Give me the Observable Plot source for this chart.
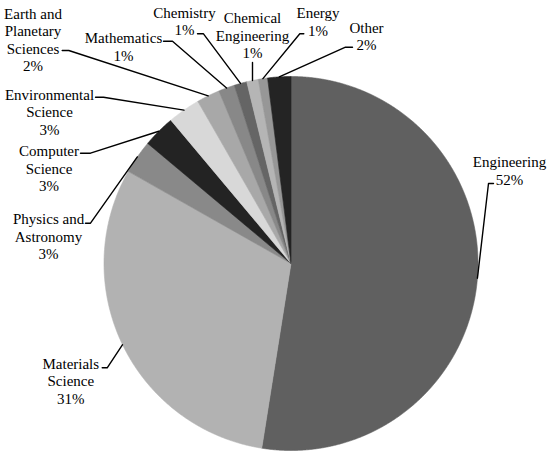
<!DOCTYPE html>
<html>
<head>
<meta charset="utf-8">
<script src="https://cdn.jsdelivr.net/npm/d3@7"></script>
<script src="https://cdn.jsdelivr.net/npm/@observablehq/plot@0.6"></script>
</head>
<body style="margin:0;background:#fff">
<div id="chart"></div>
<script>
// ---- Data ----
const names = ["Engineering", "Materials Science", "Physics and Astronomy", "Computer Science",
  "Environmental Science", "Earth and Planetary Sciences", "Mathematics", "Chemistry",
  "Chemical Engineering", "Energy", "Other"];
const shares = [52.5, 30.7, 2.9, 2.8, 2.8, 2.0, 1.4, 1.1, 1.0, 0.8, 2.0];
const pctLabels = ["52%", "31%", "3%", "3%", "3%", "2%", "1%", "1%", "1%", "1%", "2%"];
const labelNames = ["Engineering", "Materials\nScience", "Physics and\nAstronomy", "Computer\nScience",
  "Environmental\nScience", "Earth and\nPlanetary\nSciences", "Mathematics", "Chemistry",
  "Chemical\nEngineering", "Energy", "Other"];
const colors = ["#606060", "#b2b2b2", "#898989", "#232323", "#d8d8d8", "#a8a8a8",
  "#888888", "#656565", "#b5b5b5", "#979797", "#242424"];

// ---- Layout (pixels) ----
const CX = 290.5, CY = 263, R = 187;
const labelPos = [[509, 169.7], [70.3, 380.2], [48, 235.7], [48.5, 167.7], [49, 111.2],
  [32.5, 39], [123, 46], [184, 20.5], [252, 34.7], [317.5, 21], [366, 35.2]];
const leaderStart = [[493, 183], [101.7, 367.3], [85, 222.7], [80, 152.7], [95, 96.7],
  [61.7, 50], [163, 40.7], [197, 33.3], [252, 62], [303.3, 33.3], [352, 46.7]];
const leaderElbow = [[488, 183], [106.7, 367.3], [90, 222.7], [90, 152.7], [103, 96.7],
  [68.3, 50], [172, 40.7], [203, 33.3], [252, 62], [299.3, 33.3], [345, 46.7]];

// ---- Build slices ----
const total = d3.sum(shares);
let acc = 0;
const slices = names.map((name, i) => {
  const a0 = acc / total * 2 * Math.PI;
  acc += shares[i];
  const a1 = acc / total * 2 * Math.PI;
  const pts = [{x: CX, y: CY}];
  const n = Math.max(2, Math.ceil((a1 - a0) / (Math.PI / 720)));
  for (let k = 0; k <= n; k++) {
    const a = a0 + (a1 - a0) * k / n;
    pts.push({x: CX + R * Math.sin(a), y: CY - R * Math.cos(a)});
  }
  pts.push({x: CX, y: CY});
  return {name, color: colors[i], pts, mid: (a0 + a1) / 2};
});

const leaders = [];
slices.forEach((s, i) => {
  leaders.push({name: s.name, x: leaderStart[i][0], y: leaderStart[i][1]});
  leaders.push({name: s.name, x: leaderElbow[i][0], y: leaderElbow[i][1]});
  leaders.push({name: s.name, x: CX + R * Math.sin(s.mid), y: CY - R * Math.cos(s.mid)});
});

const labels = slices.map((s, i) => ({
  x: labelPos[i][0], y: labelPos[i][1], t: labelNames[i] + "\n" + pctLabels[i]
}));

const chart = Plot.plot({
  width: 550,
  height: 456,
  margin: 0,
  x: {domain: [0, 550], range: [0, 550], axis: null},
  y: {domain: [0, 456], range: [0, 456], axis: null},
  marks: [
    ...slices.map(s => Plot.line(s.pts, {x: "x", y: "y", fill: s.color, stroke: s.color, strokeWidth: 0.6})),
    Plot.line(leaders, {x: "x", y: "y", z: "name", stroke: "#000", strokeWidth: 1.4}),
    Plot.text(labels, {
      x: "x", y: "y", text: "t",
      lineHeight: 1.167,
      fontFamily: "Liberation Serif", fontSize: 15
    })
  ]
});
document.getElementById("chart").appendChild(chart);
</script>
</body>
</html>
